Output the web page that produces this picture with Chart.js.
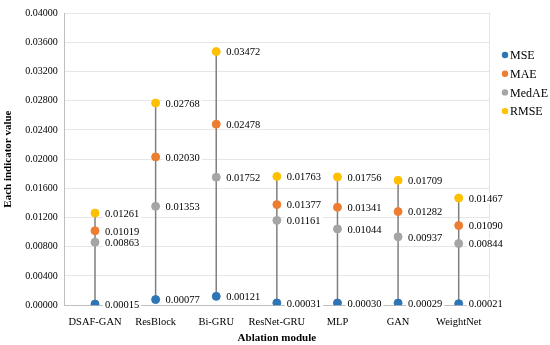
<!DOCTYPE html>
<html>
<head>
<meta charset="utf-8">
<script src="https://cdn.jsdelivr.net/npm/chart.js@4"></script>
<style>
    body { margin: 0; background: #fff; }
    #wrap { width: 550px; height: 345px; }
</style>
</head>
<body>
<div id="wrap"><canvas id="chart"></canvas></div>
<script>
const modules = ['DSAF-GAN', 'ResBlock', 'Bi-GRU', 'ResNet-GRU', 'MLP', 'GAN', 'WeightNet'];
const mse   = [0.00015, 0.00077, 0.00121, 0.00031, 0.00030, 0.00029, 0.00021];
const mae   = [0.01019, 0.02030, 0.02478, 0.01377, 0.01341, 0.01282, 0.01090];
const medae = [0.00863, 0.01353, 0.01752, 0.01161, 0.01044, 0.00937, 0.00844];
const rmse  = [0.01261, 0.02768, 0.03472, 0.01763, 0.01756, 0.01709, 0.01467];

const serif = '"Liberation Serif", "Times New Roman", serif';

const seriesDefs = [
    { label: 'MSE', data: mse, color: '#2E75B6' },
    { label: 'MAE', data: mae, color: '#ED7D31' },
    { label: 'MedAE', data: medae, color: '#A5A5A5' },
    { label: 'RMSE', data: rmse, color: '#FFC000' }
];

// vertical stems from min to max of each category, value labels and legend
const stemPlugin = {
    id: 'stems',
    beforeDatasetsDraw(chart) {
        const ctx = chart.ctx;
        const x = chart.scales.x, y = chart.scales.y;
        const area = chart.chartArea;
        ctx.save();
        // right frame line of the plot area
        ctx.strokeStyle = '#E6E6E6';
        ctx.lineWidth = 1;
        ctx.beginPath();
        ctx.moveTo(Math.round(area.right) + 0.5, area.top);
        ctx.lineTo(Math.round(area.right) + 0.5, area.bottom);
        ctx.stroke();

        ctx.strokeStyle = '#7F7F7F';
        ctx.lineWidth = 1.5;
        modules.forEach((m, i) => {
            const vals = [mse[i], mae[i], medae[i], rmse[i]];
            const px = x.getPixelForValue(i);
            ctx.beginPath();
            ctx.moveTo(px, y.getPixelForValue(Math.min(...vals)));
            ctx.lineTo(px, y.getPixelForValue(Math.max(...vals)));
            ctx.stroke();
        });
        ctx.restore();
    },
    afterDatasetsDraw(chart) {
        const ctx = chart.ctx;
        ctx.save();
        ctx.font = '10.5px ' + serif;
        ctx.textBaseline = 'middle';
        chart.data.datasets.forEach((ds, di) => {
            const meta = chart.getDatasetMeta(di);
            meta.data.forEach((pt, i) => {
                const txt = ds.data[i].toFixed(5);
                const w = ctx.measureText(txt).width;
                ctx.fillStyle = '#fff';
                ctx.fillRect(pt.x + 8, pt.y - 5, w + 4, 10);
                ctx.fillStyle = '#000';
                ctx.fillText(txt, pt.x + 10, pt.y + 1);
            });
        });
        // legend
        ctx.font = '12px ' + serif;
        seriesDefs.forEach((s, k) => {
            const ly = 55 + k * 18.7;
            ctx.fillStyle = s.color;
            ctx.beginPath();
            ctx.arc(505, ly, 3.2, 0, Math.PI * 2);
            ctx.fill();
            ctx.fillStyle = '#000';
            ctx.fillText(s.label, 510, ly + 1);
        });
        ctx.restore();
    }
};

new Chart(document.getElementById('chart'), {
    type: 'line',
    data: {
        labels: modules,
        datasets: seriesDefs.map(s => ({
            label: s.label,
            data: s.data,
            showLine: false,
            pointRadius: 4,
            pointHoverRadius: 4,
            pointBackgroundColor: s.color,
            pointBorderColor: s.color,
            borderColor: s.color,
            backgroundColor: s.color
        }))
    },
    options: {
        responsive: true,
        maintainAspectRatio: false,
        animation: false,
        layout: { padding: { top: 9, right: 61, left: 2, bottom: 0 } },
        plugins: {
            legend: { display: false },
            tooltip: { enabled: false }
        },
        scales: {
            x: {
                offset: true,
                grid: { display: false },
                border: { color: '#BFBFBF', width: 1 },
                ticks: { color: '#000', font: { family: serif, size: 10.5 }, padding: 3, maxRotation: 0, minRotation: 0, autoSkip: false },
                title: { display: true, text: 'Ablation module', color: '#000', font: { family: serif, size: 11, weight: 'bold' }, padding: { top: 0, bottom: 0 } }
            },
            y: {
                min: 0,
                max: 0.04,
                grid: { color: '#E6E6E6', drawTicks: false },
                border: { color: '#BFBFBF', width: 1 },
                ticks: {
                    stepSize: 0.004,
                    color: '#000',
                    padding: 7,
                    font: { family: serif, size: 10 },
                    callback: v => v.toFixed(5)
                },
                title: { display: true, text: 'Each indicator value', color: '#000', font: { family: serif, size: 11, weight: 'bold' }, padding: { top: 0, bottom: 3 } }
            }
        }
    },
    plugins: [stemPlugin]
});
</script>
</body>
</html>
